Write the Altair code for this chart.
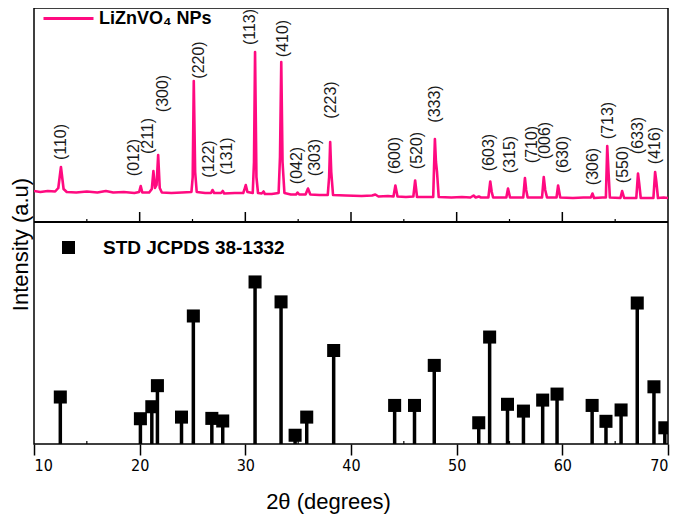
import altair as alt
import pandas as pd

# ---------------- data ----------------
# measured XRD pattern of LiZnVO4 NPs (2theta, intensity a.u.)
xrd_2theta = [10.0, 10.6, 11.3, 12.0, 12.3, 12.55, 12.8, 13.1, 14.0, 15.0, 16.0, 16.8, 17.5, 18.5, 19.5,
              19.95, 20.1, 20.25, 20.9, 21.15, 21.3, 21.45, 21.6, 21.75, 21.9, 22.1, 23.0, 24.0, 24.9,
              25.02, 25.12, 25.25, 25.4, 26.2, 26.75, 26.89, 27.05, 27.7, 27.86, 28.0, 29.0, 29.8,
              29.9, 30.04, 30.2, 30.7, 30.82, 30.92, 31.05, 31.2, 31.55, 31.72, 31.85, 32.5, 33.15,
              33.28, 33.4, 33.52, 33.7, 34.3, 34.8, 34.94, 35.1, 35.7, 35.93, 36.15, 37.0, 37.8,
              37.93, 38.03, 38.13, 38.3, 39.5, 41.0, 42.0, 42.3, 42.6, 43.5, 44.02, 44.2, 44.4, 45.2,
              45.9, 46.07, 46.25, 47.0, 47.78, 47.86, 47.94, 48.04, 48.14, 48.3, 49.5, 50.5, 51.3,
              51.6, 51.8, 52.1, 52.3, 53.0, 53.18, 53.32, 53.45, 54.2, 54.7, 54.86, 55.05, 55.8,
              56.3, 56.46, 56.58, 56.72, 57.5, 58.08, 58.24, 58.38, 58.55, 59.45, 59.6, 59.8, 61.0,
              62.0, 62.7, 62.85, 63.0, 63.8, 64.12, 64.25, 64.37, 64.5, 65.5, 65.66, 65.85, 66.5,
              67.0, 67.16, 67.28, 67.42, 68.2, 68.62, 68.78, 68.9, 69.05, 69.6, 70.0]
xrd_counts = [31, 30, 31, 30.5, 34, 55, 33, 30, 29.5, 30.5, 29.5, 31, 29.5, 30, 29,
              30, 36, 29.5, 29.5, 33, 51, 34, 37, 67, 34, 29.5, 29, 29.5, 30,
              45, 141, 50, 30, 29, 29, 32, 29, 29, 31, 28.5, 29, 29,
              32, 37, 30, 29, 60, 170, 45, 29, 28.5, 30.5, 28, 28, 29,
              65, 160, 60, 29, 27.5, 27.5, 29.5, 27.5, 27.5, 33.5, 27.5, 27, 27,
              45, 80, 50, 27, 26.5, 26, 26.5, 27.5, 25.5, 26, 25.5, 36.5, 25.5, 25,
              25.5, 41.5, 25, 25, 25, 55, 83, 60, 50, 25, 24.5, 25, 24.5,
              26.5, 24.5, 25.5, 24.5, 24.5, 40.5, 30, 24.5, 24.5, 24.5, 33.5, 24.5, 24.5,
              24.5, 44, 32, 24.5, 24.5, 24.5, 45, 32, 24.5, 24.5, 36.5, 24.5, 24,
              24.5, 24.5, 28.5, 24, 24.5, 24.5, 76, 50, 24.5, 24, 31, 24, 24,
              24, 48.5, 38, 24, 24, 24, 50, 40, 24, 24.5, 24]

# (hkl) annotations: label, 2theta position, height (same units as the pattern)
hkl_labels = ["(110)", "(012)", "(211)", "(300)", "(220)", "(122)", "(131)", "(113)", "(410)",
              "(042)", "(303)", "(223)", "(600)", "(520)", "(333)", "(603)", "(315)", "(710)",
              "(006)", "(630)", "(306)", "(713)", "(550)", "(633)", "(416)"]
hkl_2theta = [12.56, 19.49, 20.75, 22.2, 25.57, 26.55, 28.23, 30.43, 33.61, 34.92, 36.6, 38.1,
              44.18, 46.24, 47.92, 53.07, 55.04, 57.1, 58.4, 60.1, 62.9, 64.34, 65.74, 67.15, 68.74]
hkl_height = [80, 64.5, 86, 128.5, 162, 63, 66, 195, 183.5, 56.5, 64.5, 122, 66.5, 71.5, 118,
              69.5, 67.5, 77.5, 81.5, 67.5, 55.5, 101.5, 57.5, 86.5, 76.5]

# standard JCPDS 38-1332 stick pattern (relative intensity)
std_2theta = [12.49, 20.07, 21.15, 21.68, 23.96, 25.08, 26.83, 27.86, 30.92, 33.38, 34.71, 35.81,
              38.36, 44.13, 46.01, 47.88, 52.09, 53.12, 54.81, 56.32, 58.14, 59.5, 62.82, 64.13,
              65.56, 67.09, 68.67, 69.7]
std_intensity = [29, 15.6, 23, 36, 16.6, 79, 15.8, 14.2, 100, 87.7, 5.4, 16.6, 57.7, 23.8, 23.8,
                 48.5, 13.1, 66, 24.5, 20.3, 27.1, 30.8, 23.8, 14, 21, 87, 35.3, 10]

x_ticks = [10, 20, 30, 40, 50, 60, 70]
inner_major_ticks = [20, 30, 40, 50, 60]
minor_ticks = [15, 25, 35, 45, 55, 65]

sample_name = "LiZnVO\u2084 NPs"
std_name = "STD JCPDS 38-1332"

# ---------------- frames ----------------
xrd_df = pd.DataFrame({"two_theta": xrd_2theta, "intensity": xrd_counts, "series": sample_name})
hkl_df = pd.DataFrame({"two_theta": hkl_2theta, "intensity": hkl_height, "label": hkl_labels})
std_df = pd.DataFrame({"two_theta": std_2theta, "intensity": std_intensity, "series": std_name})
major_df = pd.DataFrame({"two_theta": inner_major_ticks})
minor_df = pd.DataFrame({"two_theta": minor_ticks})

PINK = "#FF0A80"
FONT = "Liberation Sans, Arial, sans-serif"
NARROW = "Liberation Sans Narrow, Arial Narrow, DejaVu Sans Condensed, Liberation Sans, sans-serif"
W, H = 634, 436
TOP_H = 214      # pixel height of the upper panel
BOT_H = H - TOP_H

x_scale = alt.Scale(domain=[10, 70], nice=False, zero=False)
x_axis = alt.Axis(values=x_ticks, tickSize=11, tickWidth=1.5, tickColor="black", domain=False,
                  grid=False, labelFont=NARROW, labelFontSize=16, labelColor="black",
                  labelPadding=2, title="2\u03b8 (degrees)", titleFont=FONT, titleFontSize=22,
                  titleFontWeight="normal", titleColor="black", titlePadding=18,
                  titleX=294, titleAlign="center")


def X():
    return alt.X("two_theta:Q", scale=x_scale, axis=x_axis)


# upper panel scale: 1 unit = 1 px, 0 sits on the divider
top_scale = alt.Scale(domain=[-BOT_H, TOP_H], nice=False, zero=False)
# lower panel scale: 0..137 over the lower panel height
bot_scale = alt.Scale(domain=[0, 137 * H / BOT_H], nice=False, zero=False)

y_axis_top = alt.Axis(title="Intensity (a.u)", labels=False, ticks=False, domain=False, grid=False,
                      titleFont=FONT, titleFontSize=22, titleFontWeight="normal", titleColor="black",
                      titleAngle=270, titleX=-14, titleY=236, titleAlign="center",
                      titleBaseline="middle")

line = alt.Chart(xrd_df).mark_line(strokeWidth=2.6, strokeJoin="round", clip=True).encode(
    x=X(),
    y=alt.Y("intensity:Q", scale=top_scale, axis=y_axis_top),
    color=alt.Color("series:N", scale=alt.Scale(domain=[sample_name], range=[PINK]),
                    legend=alt.Legend(orient="none", legendX=8, legendY=-16, title=None,
                                      symbolType="stroke", symbolSize=2500, symbolStrokeWidth=3,
                                      labelFont=FONT, labelFontSize=18, labelFontWeight="bold",
                                      labelColor="black", labelOffset=4, padding=0,
                                      labelLimit=400)),
)

labels = alt.Chart(hkl_df).mark_text(angle=270, align="center", baseline="middle",
                                     font=FONT, fontSize=16, color="#1a1a1a").encode(
    x=X(), y=alt.Y("intensity:Q", scale=top_scale), text="label:N")

divider = alt.Chart(major_df).mark_rule(color="black", strokeWidth=1.5).encode(
    y=alt.datum(0, scale=top_scale))

major_up = alt.Chart(major_df).mark_rule(color="black", strokeWidth=1.5).encode(
    x=X(), y=alt.datum(0), y2=alt.datum(10))
minor_up = alt.Chart(minor_df).mark_rule(color="black", strokeWidth=1.2).encode(
    x=X(), y=alt.datum(0), y2=alt.datum(3))

top = alt.layer(line, labels, divider, major_up, minor_up)

sticks = alt.Chart(std_df).mark_rule(color="black", strokeWidth=3.5, clip=True).encode(
    x=X(), y=alt.Y("intensity:Q", scale=bot_scale, axis=None), y2=alt.datum(0))

squares = alt.Chart(std_df).mark_square(size=170, filled=True, opacity=1, clip=True).encode(
    x=X(), y=alt.Y("intensity:Q", scale=bot_scale, axis=None),
    color=alt.Color("series:N", scale=alt.Scale(domain=[std_name], range=["black"]),
                    legend=alt.Legend(orient="none", legendX=25, legendY=230, title=None,
                                      symbolType="square", symbolSize=170,
                                      labelFont=FONT, labelFontSize=19, labelFontWeight="bold",
                                      labelColor="black", labelOffset=25, padding=0,
                                      labelLimit=400)),
)

minor_bottom = alt.Chart(minor_df).mark_rule(color="black", strokeWidth=1.2).encode(
    x=X(), y=alt.value(H), y2=alt.value(H - 3))

bottom = alt.layer(sticks, squares, minor_bottom)

chart = alt.layer(top, bottom).resolve_scale(y="independent", color="independent").properties(
    width=W, height=H,
    autosize=alt.AutoSizeParams(type="none"),
    padding={"left": 26, "top": 0, "right": 9, "bottom": 70},
).configure_view(stroke="black", strokeWidth=1.5)

chart.save("out.html", embed_options={"renderer": "svg", "actions": False})
